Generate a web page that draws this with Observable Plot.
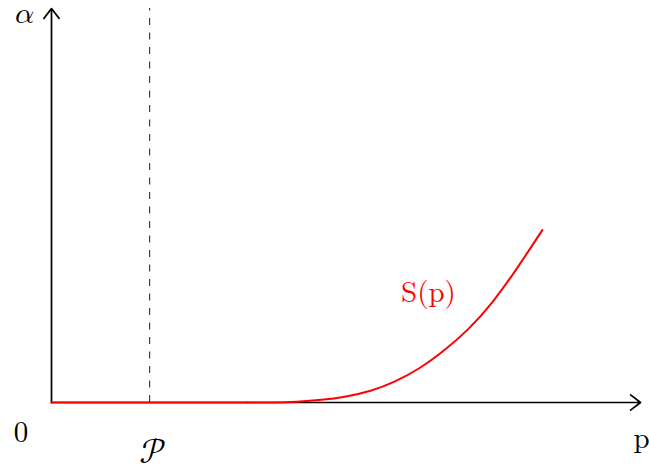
<!DOCTYPE html>
<html>
<head>
<meta charset="utf-8">
<script src="https://cdn.jsdelivr.net/npm/d3@7"></script>
<script src="https://cdn.jsdelivr.net/npm/@observablehq/plot@0.6"></script>
<style>
  html, body { margin: 0; padding: 0; background: #fff; }
  svg { display: block; }
  svg text { font-family: "Latin Modern Roman", "Liberation Serif", serif !important; }
  svg g.math text { font-family: "Latin Modern Math", "Latin Modern Roman", "DejaVu Serif", serif !important; }
</style>
</head>
<body>
<div id="chart"></div>
<script>
// Curve S(p) (data units): flat part, then rising part
const flatP = [0, 1, 2];
const flatS = [0, 0, 0];
const riseP = [2, 2.25, 2.5, 2.75, 3.0, 3.25, 3.5, 3.75, 4.0, 4.25, 4.5, 4.75, 5.0];
const riseS = [0, 0.001, 0.008, 0.027, 0.062, 0.12, 0.215, 0.35, 0.53, 0.75, 1.03, 1.375, 1.75];

// Axes (arrows) extent
const axisX = [0, 6];
const axisY = [0, 4];

// Dashed marker position
const markerP = [1];

// Labels
const labelText = ["0", "p"];
const labelX = [-0.31, 6.01];
const labelY = [-0.31, -0.37];
const alphaText = "𝛼";
const alphaX = [-0.275];
const alphaY = [3.95];
const markerText = "𝒫";
const markerLabelX = [1.03];
const markerLabelY = [-0.5];
const curveLabel = "S(p)";
const curveLabelX = [3.84];
const curveLabelY = [1.11];

const flat = flatP.map((p, i) => ({p, s: flatS[i]}));
const rise = riseP.map((p, i) => ({p, s: riseS[i]}));
const labels = labelText.map((t, i) => ({t, x: labelX[i], y: labelY[i]}));

const chart = Plot.plot({
  width: 649,
  height: 470,
  margin: 0,
  x: {domain: [0, 6], range: [51, 640], axis: null},
  y: {domain: [0, 4], range: [402, 8], axis: null},
  marks: [
    Plot.ruleX(markerP, {x: d => d, y1: 0, y2: axisY[1], stroke: "#000", strokeWidth: 0.9, strokeDasharray: "7,7.5"}),
    Plot.arrow([0], {x1: axisX[0], y1: 0, x2: axisX[1], y2: 0, stroke: "#000", strokeWidth: 1.7, headLength: 11, headAngle: 75}),
    Plot.arrow([0], {x1: 0, y1: axisY[0], x2: 0, y2: axisY[1], stroke: "#000", strokeWidth: 1.7, headLength: 11, headAngle: 75}),
    Plot.line(flat, {x: "p", y: "s", stroke: "#ff0000", strokeWidth: 2}),
    Plot.line(rise, {x: "p", y: "s", stroke: "#ff0000", strokeWidth: 2, curve: "natural"}),
    Plot.text(labels, {x: "x", y: "y", text: "t", fontSize: 29, fill: "#000"}),
    Plot.text([alphaText], {x: alphaX[0], y: alphaY[0], text: d => d, fontSize: 30, fill: "#000", className: "math"}),
    Plot.text([markerText], {x: markerLabelX[0], y: markerLabelY[0], text: d => d, fontSize: 35, fill: "#000", className: "math"}),
    Plot.text([curveLabel], {x: curveLabelX[0], y: curveLabelY[0], text: d => d, fontSize: 29, fill: "#ff0000"})
  ]
});
document.getElementById("chart").appendChild(chart);
</script>
</body>
</html>
